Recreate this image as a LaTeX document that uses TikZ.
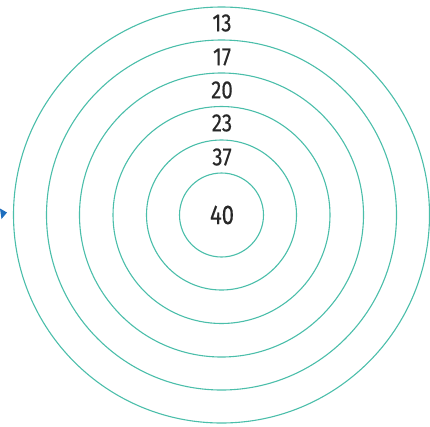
\documentclass[tikz,border=0pt]{standalone}
\usepackage{fontspec}
\setmainfont{Fira Sans}[FakeBold=0.4]
\definecolor{ring}{RGB}{75,190,170}
\definecolor{numtxt}{RGB}{40,40,40}
\definecolor{markblue}{RGB}{30,110,190}
\begin{document}
\begin{tikzpicture}[x=1pt,y=-1pt,
  ringc/.style={circle, draw=ring, line width=1.1pt, inner sep=0pt, minimum size=#1},
  num/.style={text=numtxt, inner sep=0pt, font=\fontsize{25}{25}\selectfont}]
\useasboundingbox (0,0) rectangle (430,426);
\coordinate (ctr) at (221.5,215);
\node[ringc=416pt] (r1) at (ctr) {};
\node[ringc=350pt] (r2) at (ctr) {};
\node[ringc=284pt] (r3) at (ctr) {};
\node[ringc=217pt] (r4) at (ctr) {};
\node[ringc=150pt] (r5) at (ctr) {};
\node[ringc=84pt] (r6) at (ctr) {};
\node[num] (n13) at (222,23) {\scalebox{0.82}[1]{13}};
\node[num] (n17) at (222,57) {\scalebox{0.82}[1]{17}};
\node[num] (n20) at (222,90) {\scalebox{0.82}[1]{20}};
\node[num] (n23) at (222,123) {\scalebox{0.82}[1]{23}};
\node[num] (n37) at (222,157) {\scalebox{0.82}[1]{37}};
\node[num, font=\fontsize{27}{27}\selectfont] (n40) at (222,215) {\scalebox{0.82}[1]{40}};
\fill[markblue] (0,208.5) -- (7,212.5) -- (1.5,219) -- cycle;
\end{tikzpicture}
\end{document}
